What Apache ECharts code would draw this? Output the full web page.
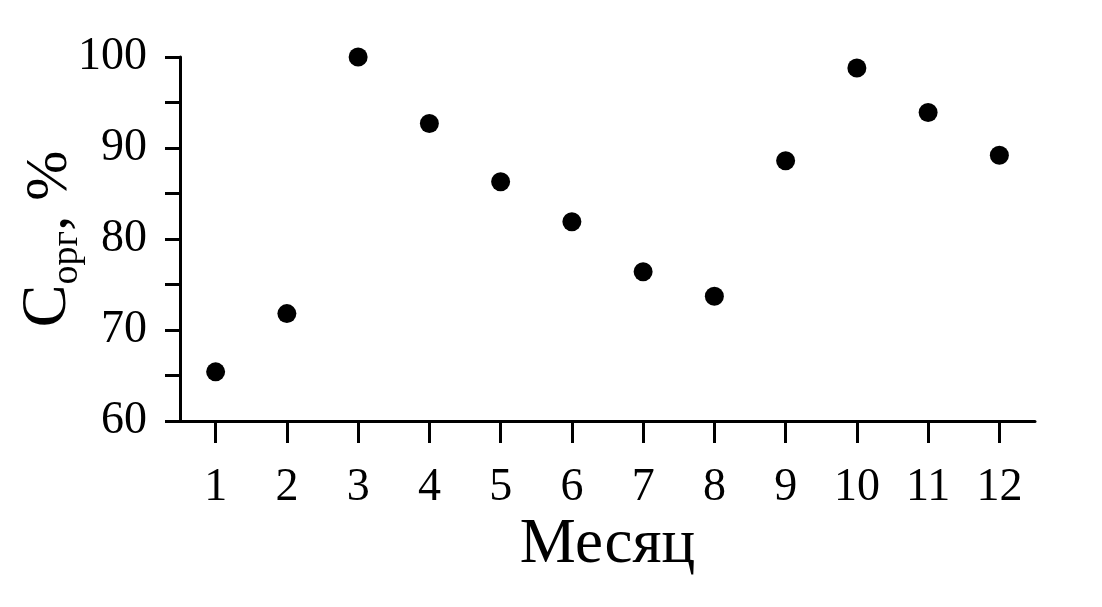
<!DOCTYPE html>
<html>
<head>
<meta charset="utf-8">
<script src="https://cdn.jsdelivr.net/npm/echarts@6/dist/echarts.min.js"></script>
<style>
html,body{margin:0;padding:0;background:#fff;}
#chart{width:1102px;height:607px;}
</style>
</head>
<body>
<div id="chart"></div>
<script>
var months = ['1','2','3','4','5','6','7','8','9','10','11','12'];
var corgValues = [65.4, 71.8, 100.0, 92.7, 86.3, 81.9, 76.4, 73.7, 88.6, 98.8, 93.9, 89.2];
var yTickLabels = [60, 70, 80, 90, 100];

var FONT = '"Liberation Serif", "DejaVu Serif", serif';
var chart = echarts.init(document.getElementById('chart'));
chart.setOption({
  backgroundColor: '#fff',
  animation: false,
  grid: {left: 180, right: 67, top: 57, bottom: 186, containLabel: false, outerBoundsMode: 'none'},
  xAxis: {
    type: 'category',
    data: months,
    boundaryGap: true,
    name: 'Месяц',
    nameLocation: 'middle',
    nameGap: 93,
    nameMoveOverlap: false,
    nameTextStyle: {fontFamily: FONT, fontSize: 63, color: '#000'},
    axisLine: {lineStyle: {color: '#000', width: 3}},
    axisTick: {show: true, alignWithLabel: true, length: 22, lineStyle: {color: '#000', width: 3}},
    axisLabel: {fontFamily: FONT, fontSize: 46, color: '#000', margin: 44},
    splitLine: {show: false}
  },
  yAxis: {
    type: 'value',
    min: 60, max: 100, interval: 5,
    name: '{c|C}{s|орг}{n|, %}',
    nameLocation: 'middle',
    nameGap: 100,
    nameMoveOverlap: false,
    nameRotate: 90,
    nameTextStyle: {
      color: '#000',
      rich: {
        c: {fontFamily: FONT, fontSize: 64, verticalAlign: 'bottom', color: '#000'},
        s: {fontFamily: FONT, fontSize: 38, height: 25, verticalAlign: 'bottom', color: '#000'},
        n: {fontFamily: FONT, fontSize: 60, verticalAlign: 'bottom', color: '#000'}
      }
    },
    axisLine: {show: true, lineStyle: {color: '#000', width: 3}},
    axisTick: {show: true, length: 15, lineStyle: {color: '#000', width: 3}},
    axisLabel: {
      fontFamily: FONT, fontSize: 46, color: '#000', margin: 33,
      formatter: function (v) { return yTickLabels.indexOf(v) >= 0 ? String(v) : ''; }
    },
    splitLine: {show: false}
  },
  series: [{
    type: 'scatter',
    data: corgValues,
    symbol: 'circle',
    symbolSize: 19,
    itemStyle: {color: '#000', opacity: 1}
  }]
});
</script>
</body>
</html>
